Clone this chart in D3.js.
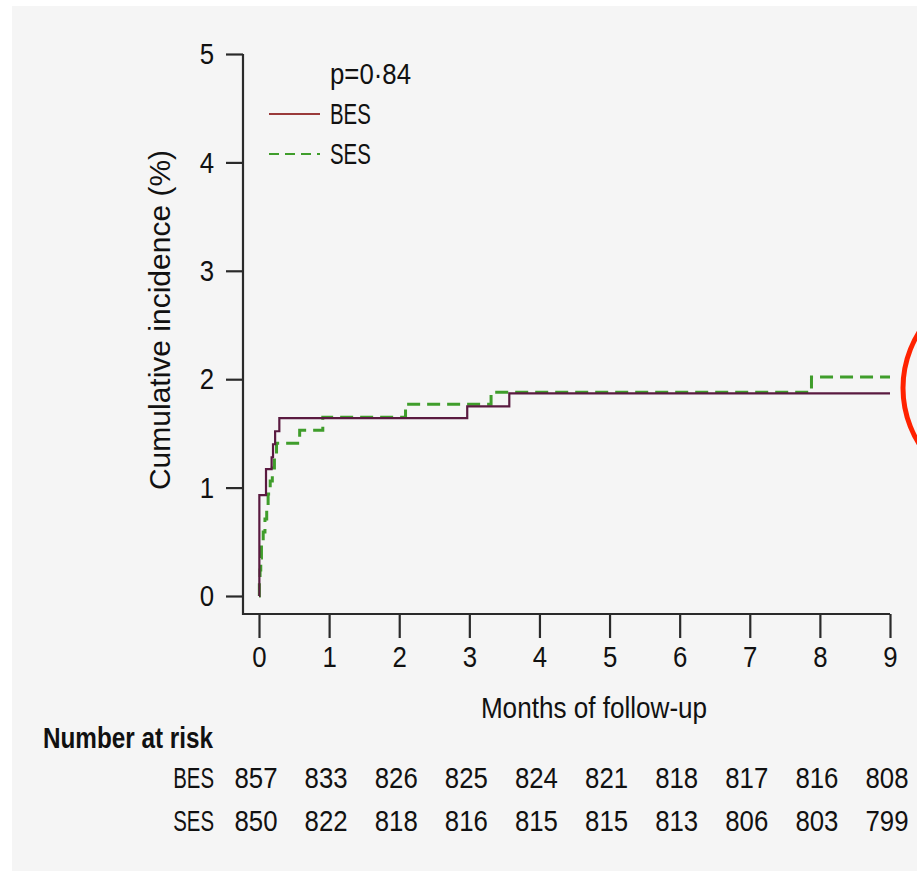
<!DOCTYPE html>
<html>
<head>
<meta charset="utf-8">
<script src="https://cdn.jsdelivr.net/npm/d3@7"></script>
<style>
  html, body { margin: 0; padding: 0; background: #ffffff; }
  svg { display: block; }
  text { font-family: "Liberation Sans", Arial, sans-serif; fill: #111; }
</style>
</head>
<body>
<svg id="chart" width="917" height="871"></svg>
<script>
// Follow-up months on the x axis and the at-risk counts shown under each tick
const months = [0, 1, 2, 3, 4, 5, 6, 7, 8, 9];
const yTicks = [0, 1, 2, 3, 4, 5];
const riskBES = [857, 833, 826, 825, 824, 821, 818, 817, 816, 808];
const riskSES = [850, 822, 818, 816, 815, 815, 813, 806, 803, 799];

// Cumulative incidence (%) step curves – event times in months
const besTime = [0, 0.005, 0.10, 0.18, 0.20, 0.23, 0.29, 2.97, 3.57, 9.0];
const besCum  = [0, 0.93, 1.17, 1.28, 1.40, 1.52, 1.64, 1.75, 1.87, 1.87];
const sesTime = [0, 0.005, 0.015, 0.025, 0.035, 0.06, 0.085, 0.11, 0.13, 0.16, 0.19, 0.22, 0.25, 0.58, 0.91, 2.09, 3.31, 7.88, 9.0];
const sesCum  = [0, 0.12, 0.24, 0.35, 0.47, 0.59, 0.71, 0.82, 0.94, 1.06, 1.18, 1.29, 1.41, 1.53, 1.65, 1.77, 1.88, 2.02, 2.02];

const pLabel = "p=0\u00B784";
const groups = ["BES", "SES"];

const svg = d3.select("#chart");
const FONT = 30;
const NARROW = 0.86;      // condensed look for digits and lowercase
const CAPS = 0.68;        // tighter still for the all-caps group names
const BES_COLOR = "#5a1a40";
const BES_LEGEND = "#9a3a3a";
const SES_COLOR = "#3f9d2b";
const AXIS = "#2a2a2a";

// text placed at an anchor point and squeezed horizontally around it
function label(x, y, str, opts = {}) {
  const t = svg.append("text")
    .attr("transform", `translate(${x},${y}) scale(${opts.sx ?? NARROW},1)${opts.rotate ? ` rotate(${opts.rotate})` : ""}`)
    .attr("font-size", opts.size ?? FONT)
    .attr("text-anchor", opts.anchor ?? "start")
    .text(str);
  if (opts.bold) t.attr("font-weight", "bold");
  return t;
}

// panel background
svg.append("rect").attr("x", 12).attr("y", 6).attr("width", 905).attr("height", 865).attr("fill", "#f5f5f5");

const x = d3.scaleLinear().domain([0, 9]).range([259, 890]);
const y = d3.scaleLinear().domain([0, 5]).range([596, 54]);
const axisY = 614, axisX = 243;

// y axis
const gy = svg.append("g").attr("transform", `translate(${axisX},0)`)
  .call(d3.axisLeft(y).tickValues(yTicks).tickFormat(d3.format("d")).tickSize(17).tickSizeOuter(0).tickPadding(12));
gy.select(".domain").remove();
gy.selectAll(".tick line").attr("stroke", AXIS).attr("stroke-width", 2.2);
gy.selectAll(".tick text")
  .attr("font-size", FONT).attr("font-family", null).attr("fill", "#111")
  .attr("x", -29 / NARROW).attr("transform", `scale(${NARROW},1)`);

// x axis
const gx = svg.append("g").attr("transform", `translate(0,${axisY})`)
  .call(d3.axisBottom(x).tickValues(months).tickFormat(d3.format("d")).tickSize(24).tickSizeOuter(0).tickPadding(8));
gx.select(".domain").remove();
gx.selectAll(".tick line").attr("stroke", AXIS).attr("stroke-width", 2.2);
gx.selectAll(".tick text")
  .attr("font-size", FONT).attr("font-family", null).attr("fill", "#111")
  .attr("transform", `scale(${NARROW},1)`);

// axis frame: vertical from the top tick down to the x axis, then across
svg.append("path")
  .attr("d", `M${axisX},${y(5)}V${axisY}H${x(9)}`)
  .attr("fill", "none").attr("stroke", AXIS).attr("stroke-width", 2.2);

// axis titles
svg.append("text")
  .attr("transform", `translate(170,${(y(0) + y(5)) / 2 - 5}) rotate(-90)`)
  .attr("text-anchor", "middle").attr("font-size", FONT)
  .text("Cumulative incidence (%)");
label(594, 718, "Months of follow-up", { anchor: "middle", sx: 0.87 });

// curves
const stepLine = d3.line().curve(d3.curveStepAfter).x(d => x(d[0])).y(d => y(d[1]));
svg.append("path")
  .datum(sesTime.map((t, i) => [t, sesCum[i]]))
  .attr("d", stepLine).attr("fill", "none")
  .attr("stroke", SES_COLOR).attr("stroke-width", 3).attr("stroke-dasharray", "13,7");
svg.append("path")
  .datum(besTime.map((t, i) => [t, besCum[i]]))
  .attr("d", stepLine).attr("fill", "none")
  .attr("stroke", BES_COLOR).attr("stroke-width", 2.2);

// legend
const legX1 = 269, legX2 = 320, legText = 330;
label(legText, 84, pLabel);
svg.append("line").attr("x1", legX1).attr("x2", legX2).attr("y1", 114).attr("y2", 114)
  .attr("stroke", BES_LEGEND).attr("stroke-width", 2.2);
label(legText, 124, groups[0], { sx: CAPS });
svg.append("line").attr("x1", legX1).attr("x2", legX2).attr("y1", 154).attr("y2", 154)
  .attr("stroke", SES_COLOR).attr("stroke-width", 2.2).attr("stroke-dasharray", "10,6");
label(legText, 164, groups[1], { sx: CAPS });

// number at risk table
label(43, 748, "Number at risk", { bold: true, sx: 0.81 });
[riskBES, riskSES].forEach((vals, r) => {
  const yy = 788 + r * 43;
  label(214, yy, groups[r], { anchor: "end", sx: CAPS });
  vals.forEach((v, i) => label(x(months[i]) - 3, yy, v, { anchor: "middle" }));
});

// red annotation ring at the right edge
svg.append("circle").attr("cx", 1008).attr("cy", 388).attr("r", 105)
  .attr("fill", "none").attr("stroke", "#ff2200").attr("stroke-width", 5);
</script>
</body>
</html>
